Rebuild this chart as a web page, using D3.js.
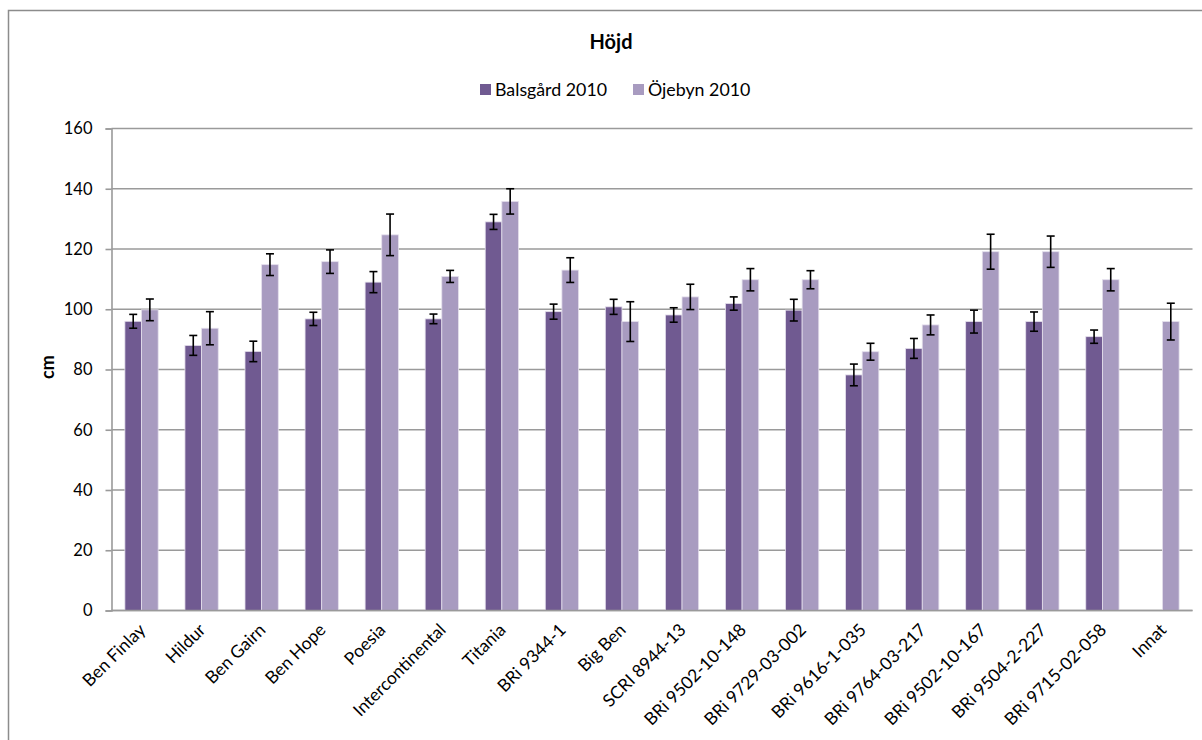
<!DOCTYPE html>
<html><head><meta charset="utf-8">
<script src="https://cdn.jsdelivr.net/npm/d3@7"></script>
<style>
html,body{margin:0;padding:0;background:#fff;overflow:hidden;}
svg{display:block;font-family:Lato, "Open Sans", sans-serif;}
</style></head>
<body>
<svg id="chart" width="1202" height="740"></svg>
<script>
const categories = ["Ben Finlay","Hildur","Ben Gairn","Ben Hope","Poesia","Intercontinental","Titania","BRi 9344-1","Big Ben","SCRI 8944-13","BRi 9502-10-148","BRi 9729-03-002","BRi 9616-1-035","BRi 9764-03-217","BRi 9502-10-167","BRi 9504-2-227","BRi 9715-02-058","Innat"];
const seriesNames = ["Balsgård 2010","Öjebyn 2010"];
const balsgard    = [96, 88, 86, 96.8, 109, 96.8, 129, 99.2, 100.8, 98.1, 101.9, 99.7, 78.2, 87, 95.9, 95.9, 90.9, null];
const balsgardErr = [2.3, 3.3, 3.4, 2.2, 3.5, 1.6, 2.5, 2.5, 2.5, 2.4, 2.2, 3.6, 3.6, 3.3, 3.8, 3.2, 2.2, null];
const ojebyn      = [99.8, 93.7, 114.8, 115.8, 124.7, 110.9, 135.8, 113, 95.9, 104.1, 109.8, 109.8, 85.9, 94.8, 119.1, 119.1, 109.8, 95.9];
const ojebynErr   = [3.6, 5.5, 3.6, 3.9, 6.9, 2.0, 4.2, 4.1, 6.6, 4.2, 3.7, 3.0, 2.8, 3.3, 5.8, 5.2, 3.7, 6.1];
const yTicks = [0,20,40,60,80,100,120,140,160];
const title = "Höjd";
const yLabel = "cm";
const colors = ["#705a91","#a89bc0"];

const svg = d3.select("#chart");
const L = 111.5, R = 1192.5, T = 128.5, B = 610.5;

// outer frame
svg.append("rect").attr("x",8.5).attr("y",10.5).attr("width",1230).attr("height",760)
  .attr("fill","none").attr("stroke","#8c8c8c").attr("stroke-width",1.5);

const x = d3.scaleBand().domain(categories).range([L,R]).padding(0);
const y = d3.scaleLinear().domain([0,160]).range([B,T]);
const bw = x.bandwidth()*0.277;

// gridlines
svg.append("g").selectAll("line").data(yTicks).join("line")
  .attr("x1",L).attr("x2",R).attr("y1",d=>y(d)).attr("y2",d=>y(d))
  .attr("stroke","#9a9a9a").attr("stroke-width",1.6);

// y axis
const yAxis = d3.axisLeft(y).tickValues(yTicks).tickSize(6).tickPadding(13);
const ga = svg.append("g").attr("transform",`translate(${L},0)`).call(yAxis);
ga.select(".domain").attr("stroke","#9a9a9a").attr("stroke-width",1.6);
ga.selectAll(".tick line").attr("stroke","#9a9a9a").attr("stroke-width",1.6);
ga.selectAll(".tick text").attr("font-size",16.5).attr("fill","#000").attr("font-family","Lato, 'Open Sans', sans-serif");

// bars
const series = [
  {name:seriesNames[0], vals:balsgard, errs:balsgardErr, off:-1},
  {name:seriesNames[1], vals:ojebyn, errs:ojebynErr, off:0}
];
series.forEach((s,si)=>{
  const data = categories.map((c,i)=>({c, v:s.vals[i], e:s.errs[i]})).filter(d=>d.v!=null);
  const cx = d=> x(d.c)+x.bandwidth()/2 + s.off*bw;
  svg.append("g").selectAll("rect").data(data).join("rect")
    .attr("x",d=>cx(d)).attr("width",bw)
    .attr("y",d=>y(d.v)).attr("height",d=>y(0)-y(d.v))
    .attr("fill",colors[si]).attr("stroke","#e4dfec").attr("stroke-width",0.8);
});
// x baseline
svg.append("line").attr("x1",L).attr("x2",R).attr("y1",y(0)).attr("y2",y(0))
  .attr("stroke","#9a9a9a").attr("stroke-width",1.6);

// error bars
series.forEach((s,si)=>{
  const data = categories.map((c,i)=>({c, v:s.vals[i], e:s.errs[i]})).filter(d=>d.v!=null);
  const g = svg.append("g").attr("stroke","#000").attr("stroke-width",1.6);
  data.forEach(d=>{
    const mx = x(d.c)+x.bandwidth()/2 + s.off*bw + bw/2;
    const y1 = y(d.v+d.e), y2 = y(d.v-d.e);
    g.append("line").attr("x1",mx).attr("x2",mx).attr("y1",y1).attr("y2",y2);
    g.append("line").attr("x1",mx-4).attr("x2",mx+4).attr("y1",y1).attr("y2",y1);
    g.append("line").attr("x1",mx-4).attr("x2",mx+4).attr("y1",y2).attr("y2",y2);
  });
});

// x labels
svg.append("g").selectAll("text").data(categories).join("text")
  .attr("transform",d=>`translate(${x(d)+x.bandwidth()/2+5},${631}) rotate(-45)`)
  .attr("text-anchor","end").attr("font-size",17.5).attr("fill","#000").text(d=>d);

// title
svg.append("text").attr("x",611).attr("y",49).attr("text-anchor","middle")
  .attr("font-size",20).attr("font-weight","bold").text(title);

// y label
svg.append("text").attr("transform","translate(54,367) rotate(-90)").attr("text-anchor","middle")
  .attr("font-size",18).attr("font-weight","bold").text(yLabel);

// legend
const legX = [480, 633];
seriesNames.forEach((n,i)=>{
  svg.append("rect").attr("x",legX[i]).attr("y",84).attr("width",11).attr("height",11).attr("fill",colors[i]);
  svg.append("text").attr("x",legX[i]+15).attr("y",96).attr("font-size",17.8).text(n);
});
</script>
</body></html>
